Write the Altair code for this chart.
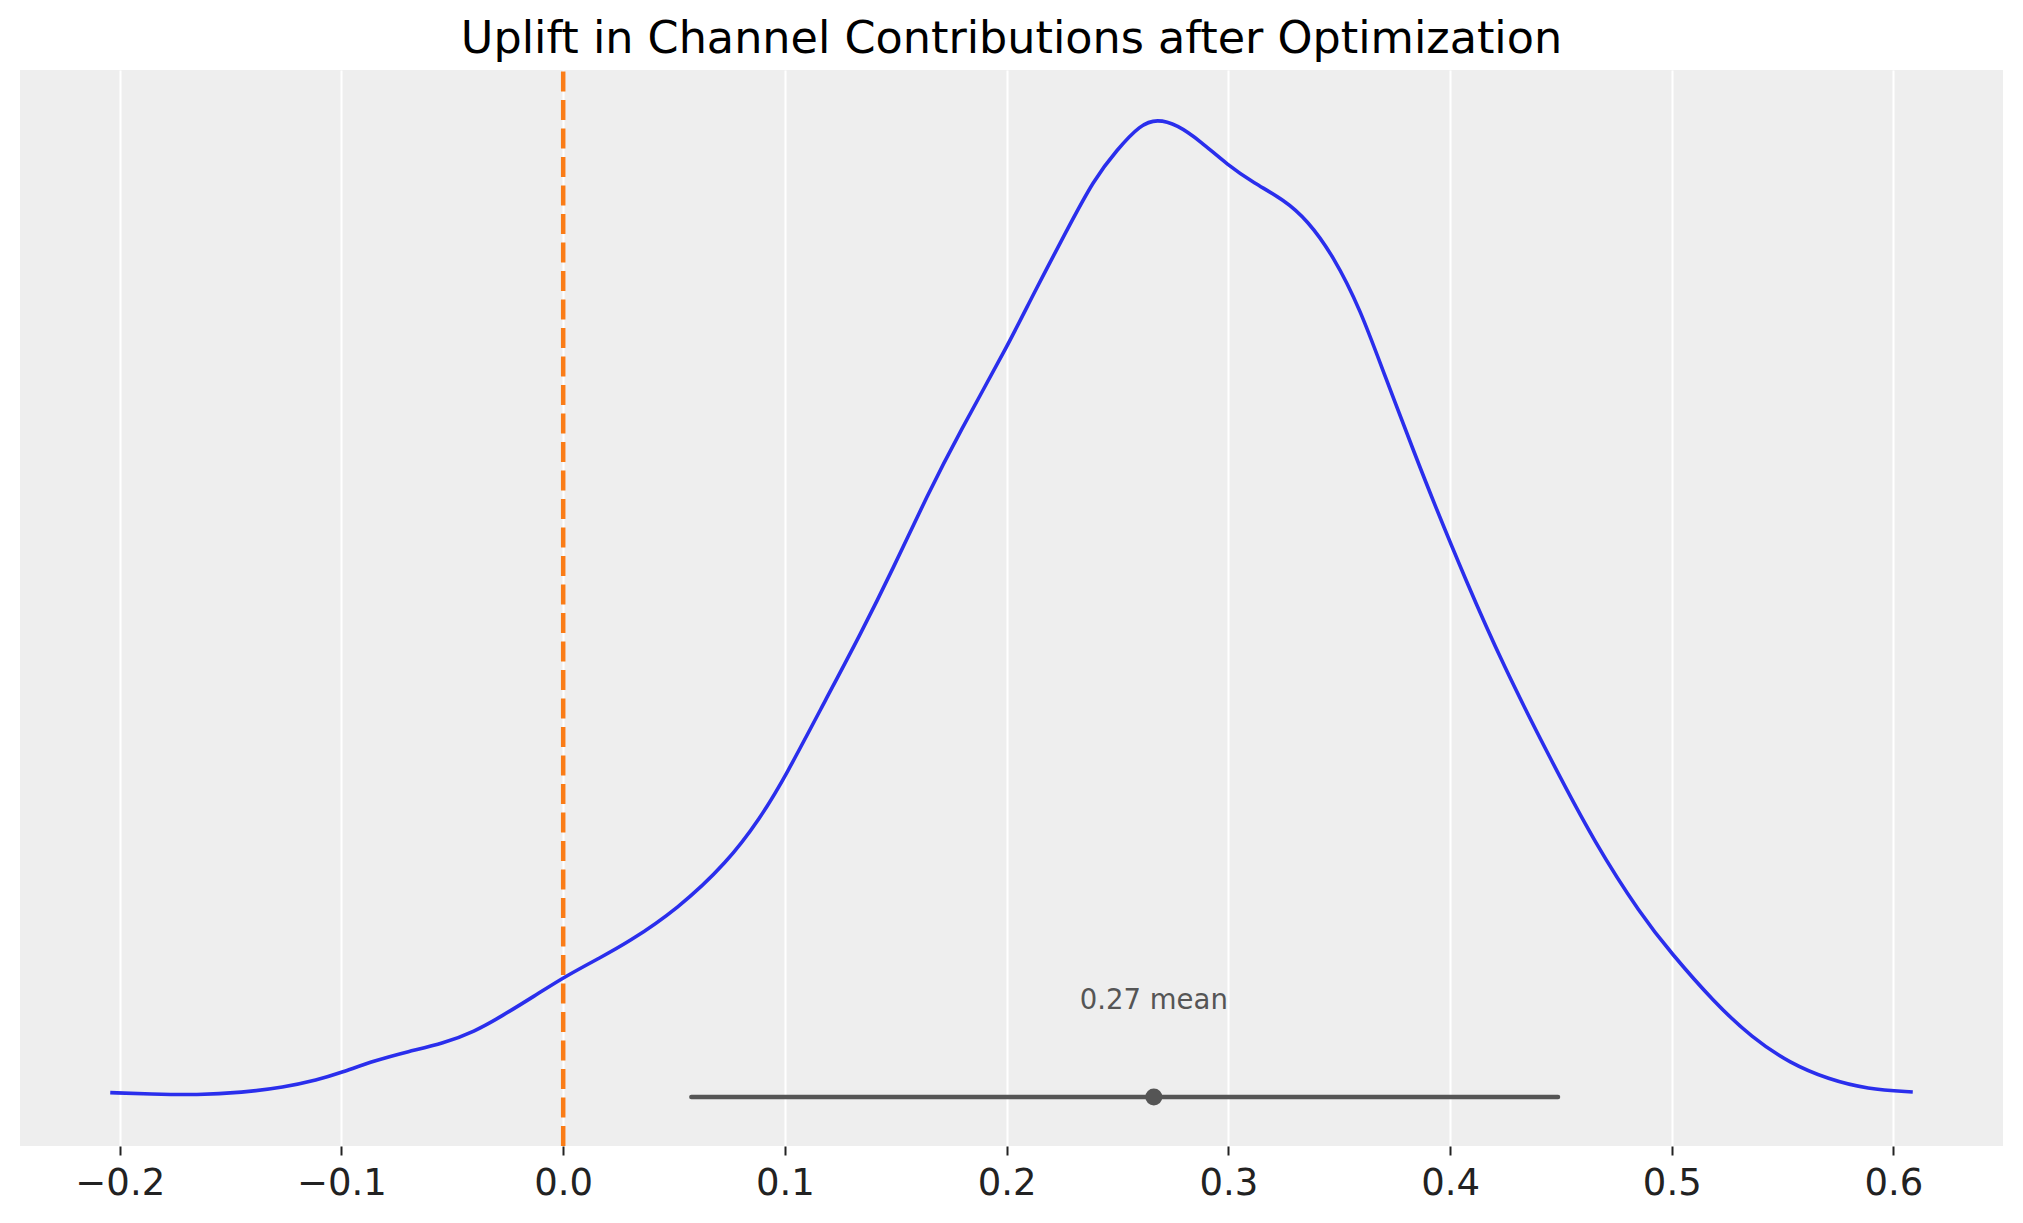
import altair as alt
import pandas as pd

# KDE of uplift (x value, density)
kde_x = [-0.2043, -0.186, -0.165, -0.145, -0.126, -0.111, -0.100, -0.085, -0.070, -0.054,
         -0.040, -0.028, -0.013, 0.000, 0.017, 0.029, 0.0515, 0.074, 0.089, 0.100,
         0.119, 0.134, 0.149, 0.164, 0.179, 0.1998, 0.2123, 0.2273, 0.2393, 0.2498,
         0.2603, 0.2679, 0.2769, 0.2874, 0.2995, 0.3115, 0.3250, 0.3355, 0.3475, 0.3596,
         0.3701, 0.3851, 0.3922, 0.4068, 0.4241, 0.4448, 0.4655, 0.4862, 0.4995, 0.5190,
         0.5362, 0.5535, 0.5707, 0.5880, 0.6087]
kde_y = [0.018, 0.012, 0.008, 0.018, 0.039, 0.068, 0.098, 0.146, 0.182, 0.215,
         0.262, 0.322, 0.404, 0.478, 0.559, 0.617, 0.751, 0.938, 1.117, 1.278,
         1.599, 1.849, 2.117, 2.403, 2.662, 2.992, 3.215, 3.468, 3.668, 3.788,
         3.888, 3.911, 3.888, 3.822, 3.728, 3.655, 3.588, 3.508, 3.362, 3.148,
         2.895, 2.548, 2.388, 2.072, 1.724, 1.360, 1.012, 0.728, 0.578, 0.380,
         0.237, 0.134, 0.071, 0.032, 0.020]

hdi_low = [0.0578]
hdi_high = [0.4487]
hdi_level = [0.0]
mean_val = [0.2664]
mean_label = ["0.27 mean"]
label_level = [0.352]
ref_x = [0.0]
tick_vals = [-0.2, -0.1, 0.0, 0.1, 0.2, 0.3, 0.4, 0.5, 0.6]

W, H = 1983, 1076
xscale = alt.Scale(domain=[-0.2450, 0.6494], nice=False, zero=False)
yscale = alt.Scale(domain=[-0.1956, 4.1066], nice=False, zero=False)

kde_df = pd.DataFrame({"x": kde_x, "y": kde_y})
hdi_df = pd.DataFrame({"lo": hdi_low, "hi": hdi_high, "y": hdi_level})
mean_df = pd.DataFrame({"x": mean_val, "y": hdi_level, "label": mean_label, "ly": label_level})
ref_df = pd.DataFrame({"x": ref_x})

kde = alt.Chart(kde_df).mark_line(color="#2a2eec", strokeWidth=3.6, interpolate="basis").encode(
    x=alt.X("x:Q", scale=xscale,
            axis=alt.Axis(values=tick_vals, format=".1f", title=None, grid=True,
                          gridColor="#ffffff", gridWidth=2, gridOpacity=1, domain=False,
                          tickColor="#222222", tickWidth=2, tickSize=9,
                          labelFontSize=37, labelColor="#222222", labelPadding=10,
                          labelFont="DejaVu Sans")),
    y=alt.Y("y:Q", scale=yscale, axis=None),
)

hdi = alt.Chart(hdi_df).mark_rule(color="#555555", strokeWidth=4.5, strokeCap="round").encode(
    x=alt.X("lo:Q", scale=xscale), x2="hi:Q", y=alt.Y("y:Q", scale=yscale)
)

pt = alt.Chart(mean_df).mark_circle(color="#555555", opacity=1, size=290).encode(
    x=alt.X("x:Q", scale=xscale), y=alt.Y("y:Q", scale=yscale)
)

txt = alt.Chart(mean_df).mark_text(color="#555555", fontSize=27.5, font="DejaVu Sans",
                                   align="center", baseline="alphabetic").encode(
    x=alt.X("x:Q", scale=xscale), y=alt.Y("ly:Q", scale=yscale), text="label:N"
)

ref = alt.Chart(ref_df).mark_rule(color="#fa7c17", strokeWidth=4.5, strokeDash=[20, 8.5]).encode(
    x=alt.X("x:Q", scale=xscale), y=alt.value(H), y2=alt.value(0)
)

chart = alt.layer(kde, hdi, pt, txt, ref).properties(
    width=W, height=H,
    background="#ffffff",
    title=alt.TitleParams("Uplift in Channel Contributions after Optimization",
                          fontSize=44.5, font="DejaVu Sans", fontWeight="normal",
                          color="#000000", anchor="middle", offset=-30, baseline="alphabetic"),
    autosize=alt.AutoSizeParams(type="none"),
    padding={"left": 12, "top": 62, "right": 12, "bottom": 60},
).configure_view(fill="#eeeeee", strokeWidth=0)

chart.save("out.html", embed_options={"renderer": "svg", "actions": False})
